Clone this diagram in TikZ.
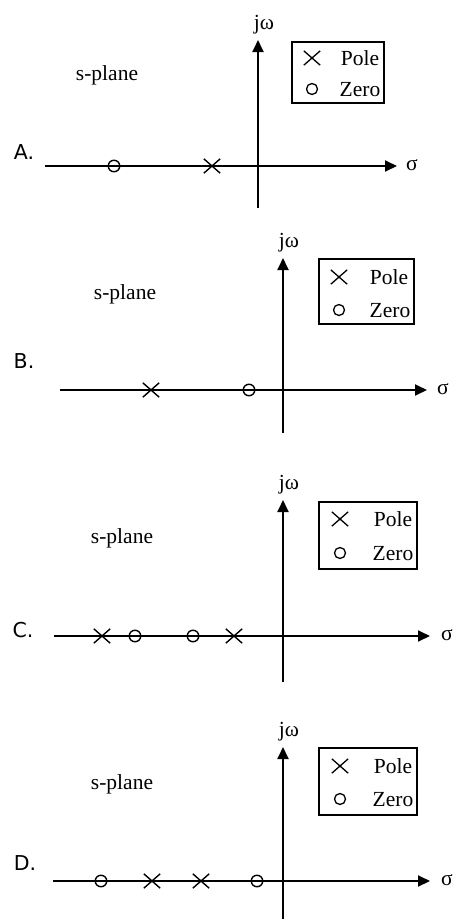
\documentclass[tikz,border=0pt]{standalone}
\usepackage{fontspec}
\setmainfont{Liberation Serif}
\newfontfamily\lblfont{DejaVu Sans}
\usetikzlibrary{arrows.meta,shapes.misc}
\tikzset{
  axisline/.style={line width=1.9pt,-{Triangle[length=12pt,width=11pt]}},
  polemark/.style={cross out,draw,line width=1.4pt,minimum width=15pt,minimum height=13pt,inner sep=0pt},
  zeromark/.style={circle,draw,line width=1.4pt,minimum size=11.5pt,inner sep=0pt},
  lpolemark/.style={cross out,draw,line width=1.3pt,minimum width=15pt,minimum height=13pt,inner sep=0pt},
  lzeromark/.style={circle,draw,line width=1.3pt,minimum size=11pt,inner sep=0pt},
  letter/.style={font=\fontsize{20.5}{20.5}\lblfont,inner sep=0pt},
  stext/.style={font=\fontsize{21.5}{21.5}\selectfont,inner sep=0pt},
  legbox/.style={draw,line width=1.2pt}
}
\begin{document}
\begin{tikzpicture}[x=1pt,y=-1pt]
\useasboundingbox[fill=white] (0,0) rectangle (458,919);
% ---------- Panel A ----------
\coordinate (Ahl) at (45,166);
\coordinate (Ahr) at (397,166);
\coordinate (Avb) at (258,208);
\coordinate (Avt) at (258,40);
\draw[axisline] (Ahl) -- (Ahr);
\draw[axisline] (Avb) -- (Avt);
\node[stext] (Ajw) at (264,25) {jω};
\node[stext] (Asig) at (412,165) {σ};
\draw[legbox] (292,42) rectangle (384,103);
\node[lpolemark] (Alp) at (312,58) {};
\node[stext] (Alpt) at (360,58.5) {Pole};
\node[lzeromark] (Alz) at (312,89) {};
\node[stext] (Alzt) at (360,90) {Zero};
\node[stext] (Asp) at (107,75) {s-plane};
\node[letter] (Alab) at (24,152) {A.};
\node[zeromark] (Az1) at (114,166) {};
\node[polemark] (Ap1) at (212,166) {};
% ---------- Panel B ----------
\coordinate (Bhl) at (60,390);
\coordinate (Bhr) at (427,390);
\coordinate (Bvb) at (283,433);
\coordinate (Bvt) at (283,258);
\draw[axisline] (Bhl) -- (Bhr);
\draw[axisline] (Bvb) -- (Bvt);
\node[stext] (Bjw) at (289,243) {jω};
\node[stext] (Bsig) at (443,389) {σ};
\draw[legbox] (319,259) rectangle (414,324);
\node[lpolemark] (Blp) at (339,277) {};
\node[stext] (Blpt) at (389,277.5) {Pole};
\node[lzeromark] (Blz) at (339,310) {};
\node[stext] (Blzt) at (390,310.5) {Zero};
\node[stext] (Bsp) at (125,294) {s-plane};
\node[letter] (Blab) at (24,361) {B.};
\node[polemark] (Bp1) at (151,390) {};
\node[zeromark] (Bz1) at (249,390) {};
% ---------- Panel C ----------
\coordinate (Chl) at (54,636);
\coordinate (Chr) at (430,636);
\coordinate (Cvb) at (283,682);
\coordinate (Cvt) at (283,500);
\draw[axisline] (Chl) -- (Chr);
\draw[axisline] (Cvb) -- (Cvt);
\node[stext] (Cjw) at (289,485) {jω};
\node[stext] (Csig) at (447,635) {σ};
\draw[legbox] (319,502) rectangle (417,569);
\node[lpolemark] (Clp) at (340,519) {};
\node[stext] (Clpt) at (393,519.5) {Pole};
\node[lzeromark] (Clz) at (340,553) {};
\node[stext] (Clzt) at (393,553.5) {Zero};
\node[stext] (Csp) at (122,538) {s-plane};
\node[letter] (Clab) at (23,630) {C.};
\node[polemark] (Cp1) at (102,636) {};
\node[zeromark] (Cz1) at (135,636) {};
\node[zeromark] (Cz2) at (193,636) {};
\node[polemark] (Cp2) at (234,636) {};
% ---------- Panel D ----------
\coordinate (Dhl) at (53,881);
\coordinate (Dhr) at (430,881);
\coordinate (Dvb) at (283,919);
\coordinate (Dvt) at (283,747);
\draw[axisline] (Dhl) -- (Dhr);
\draw[axisline] (Dvb) -- (Dvt);
\node[stext] (Djw) at (289,732) {jω};
\node[stext] (Dsig) at (447,880) {σ};
\draw[legbox] (319,748) rectangle (417,815);
\node[lpolemark] (Dlp) at (340,766) {};
\node[stext] (Dlpt) at (393,766.5) {Pole};
\node[lzeromark] (Dlz) at (340,799) {};
\node[stext] (Dlzt) at (393,799.5) {Zero};
\node[stext] (Dsp) at (122,784) {s-plane};
\node[letter] (Dlab) at (25,863) {D.};
\node[zeromark] (Dz1) at (101,881) {};
\node[polemark] (Dp1) at (152,881) {};
\node[polemark] (Dp2) at (201,881) {};
\node[zeromark] (Dz2) at (257,881) {};
\end{tikzpicture}
\end{document}
